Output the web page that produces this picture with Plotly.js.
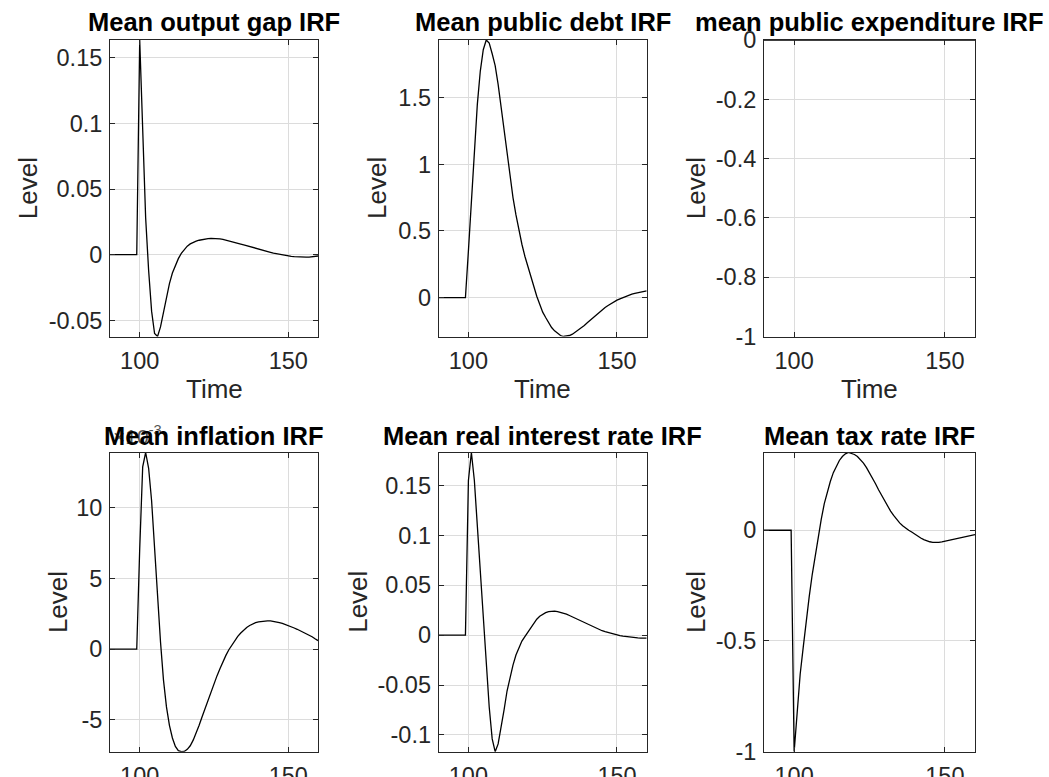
<!DOCTYPE html>
<html><head><meta charset="utf-8">
<script src="https://cdn.plot.ly/plotly-3.0.1.min.js"></script>
<style>html,body{margin:0;padding:0;background:#fff}#chart{width:1049px;height:777px}</style>
</head><body><div id="chart"></div>
<script>
const time = [90,91,92,93,94,95,96,97,98,99,100,101,102,103,104,105,106,107,108,109,110,111,112,113,114,115,116,117,118,119,120,121,122,123,124,125,126,127,128,129,130,131,132,133,134,135,136,137,138,139,140,141,142,143,144,145,146,147,148,149,150,151,152,153,154,155,156,157,158,159,160];

const outputGap = [0,0,0,0,0,0,0,0,0,0,
 0.1635,0.095,0.028,-0.012,-0.043,-0.060,-0.0623,-0.055,-0.043,-0.032,
 -0.022,-0.014,-0.008,-0.003,0.001,0.004,0.0065,0.0082,0.0094,0.0103,
 0.011,0.0116,0.012,0.0123,0.0125,0.0125,0.0123,0.012,0.0116,0.0111,
 0.0105,0.0099,0.0093,0.0087,0.0081,0.0075,0.0068,0.0061,0.0055,0.0048,
 0.0042,0.0036,0.003,0.0024,0.0018,0.0012,0.0007,0.0003,0,-0.0005,
 -0.0009,-0.0012,-0.0015,-0.0017,-0.0018,-0.0019,-0.0019,-0.0018,-0.0016,-0.0013,
 -0.001];

const publicDebt = [0,0,0,0,0,0,0,0,0,0,
 0.35,0.75,1.12,1.45,1.70,1.86,1.933,1.91,1.83,1.74,
 1.60,1.43,1.25,1.07,0.90,0.75,0.62,0.50,0.40,0.31,
 0.23,0.15,0.08,0.01,-0.05,-0.11,-0.15,-0.19,-0.225,-0.25,
 -0.27,-0.285,-0.2925,-0.29,-0.285,-0.275,-0.26,-0.245,-0.23,-0.21,
 -0.19,-0.17,-0.15,-0.13,-0.11,-0.09,-0.075,-0.06,-0.045,-0.032,
 -0.02,-0.01,0,0.01,0.018,0.025,0.031,0.037,0.042,0.046,
 0.05];

const publicExpenditure = [0,0,0,0,0,0,0,0,0,0,
 0,0,0,0,0,0,0,0,0,0,
 0,0,0,0,0,0,0,0,0,0,
 0,0,0,0,0,0,0,0,0,0,
 0,0,0,0,0,0,0,0,0,0,
 0,0,0,0,0,0,0,0,0,0,
 0,0,0,0,0,0,0,0,0,0,
 0];

// inflation in units of 1e-3
const inflation = [0,0,0,0,0,0,0,0,0,0,
 7.1,12.9,13.92,12.8,10.5,7.2,3.5,0.5,-2.2,-4.1,
 -5.4,-6.3,-6.9,-7.2,-7.27,-7.25,-7.1,-6.85,-6.45,-5.95,
 -5.4,-4.8,-4.2,-3.6,-3.0,-2.45,-1.9,-1.4,-0.9,-0.45,
 -0.05,0.3,0.62,0.9,1.14,1.35,1.53,1.67,1.78,1.87,
 1.93,1.97,1.99,2.0,1.99,1.96,1.92,1.87,1.81,1.74,
 1.66,1.58,1.49,1.4,1.3,1.2,1.1,0.99,0.87,0.73,
 0.6];

const realRate = [0,0,0,0,0,0,0,0,0,0,
 0.155,0.183,0.155,0.108,0.062,0.018,-0.028,-0.072,-0.104,-0.1168,
 -0.109,-0.093,-0.075,-0.056,-0.042,-0.03,-0.02,-0.012,-0.006,-0.0015,
 0.003,0.008,0.012,0.016,0.019,0.021,0.0225,0.0235,0.024,0.024,
 0.0235,0.0228,0.022,0.021,0.0197,0.0183,0.0168,0.0153,0.0138,0.0123,
 0.0108,0.0094,0.008,0.0067,0.0055,0.0044,0.0034,0.0025,0.0016,0.0008,
 0.0002,-0.0004,-0.001,-0.0015,-0.002,-0.0023,-0.0026,-0.0028,-0.0029,-0.003,
 -0.003];

const taxRate = [0,0,0,0,0,0,0,0,0,0,
 -1,-0.80,-0.65,-0.53,-0.41,-0.30,-0.20,-0.11,-0.03,0.05,
 0.12,0.175,0.22,0.26,0.29,0.315,0.333,0.345,0.351,0.348,
 0.342,0.333,0.32,0.303,0.283,0.26,0.235,0.21,0.183,0.157,
 0.132,0.108,0.086,0.067,0.049,0.033,0.02,0.009,0.0,-0.008,
 -0.018,-0.027,-0.035,-0.042,-0.048,-0.052,-0.055,-0.056,-0.055,-0.053,
 -0.05,-0.047,-0.044,-0.041,-0.038,-0.035,-0.032,-0.029,-0.026,-0.023,
 -0.02];

const titles = ['Mean output gap IRF','Mean public debt IRF','mean public expenditure IRF',
                'Mean inflation IRF','Mean real interest rate IRF','Mean tax rate IRF'];
const xTickVals = [100,150];
const xTickText = ['100','150'];
const yTicks = [
  {vals:[-0.05,0,0.05,0.1,0.15], text:['-0.05','0','0.05','0.1','0.15']},
  {vals:[0,0.5,1,1.5], text:['0','0.5','1','1.5']},
  {vals:[-1,-0.8,-0.6,-0.4,-0.2,0], text:['-1','-0.8','-0.6','-0.4','-0.2','0']},
  {vals:[-5,0,5,10], text:['-5','0','5','10']},
  {vals:[-0.1,-0.05,0,0.05,0.1,0.15], text:['-0.1','-0.05','0','0.05','0.1','0.15']},
  {vals:[-1,-0.5,0], text:['-1','-0.5','0']}
];
const series = [outputGap, publicDebt, publicExpenditure, inflation, realRate, taxRate];
const xLabel = 'Time', yLabel = 'Level', expLabel = '×10<sup>-3</sup>';

const W = 1049, H = 777;
const colPx = [[110,318],[438.7,646.7],[764,975]];
const rowPx = [[40,336.5],[452.5,751.7]];
const yLabelOffset = [82, 61, 68, 52, 81, 68];
const FONT = 'Liberation Sans, Arial, Helvetica, sans-serif';
const TXT = '#262626';

const data = [], annotations = [];
const layout = {
  width: W, height: H, margin:{l:0,r:0,t:0,b:0},
  paper_bgcolor:'#fff', plot_bgcolor:'#fff', showlegend:false,
  font:{family:FONT, size:23, color:TXT}, annotations: annotations
};

for (let i=0;i<6;i++){
  const r = Math.floor(i/3), c = i%3;
  const xa = 'x'+(i===0?'':i+1), ya = 'y'+(i===0?'':i+1);
  data.push({x: time, y: series[i], xaxis: xa, yaxis: ya, type:'scatter', mode:'lines',
    line:{color:'#000', width:1.3}, hoverinfo:'x+y'});
  let ymin = Math.min(...series[i]), ymax = Math.max(...series[i]);
  if (ymin === ymax) { ymin = ymin - 1; }
  const xd = [colPx[c][0]/W, colPx[c][1]/W];
  const yd = [1 - rowPx[r][1]/H, 1 - rowPx[r][0]/H];
  const axCommon = {showline:true, mirror:'ticks', linecolor:TXT, linewidth:1,
    ticks:'inside', ticklen:5, tickcolor:TXT, tickwidth:1,
    showgrid:true, gridcolor:'#dcdcdc', gridwidth:1, zeroline:false,
    tickfont:{family:FONT, size:23.5, color:TXT}, fixedrange:true};
  layout['xaxis'+(i===0?'':i+1)] = Object.assign({}, axCommon, {
    domain: xd, anchor: ya, range:[time[0], time[time.length-1]],
    tickmode:'array', tickvals:xTickVals, ticktext:xTickText, ticklabelstandoff:3});
  layout['yaxis'+(i===0?'':i+1)] = Object.assign({}, axCommon, {
    domain: yd, anchor: xa, range:[ymin, ymax],
    tickmode:'array', tickvals:yTicks[i].vals, ticktext:yTicks[i].text, ticklabelstandoff:2});
  annotations.push({text:yLabel, xref:'paper', yref:'paper', textangle:-90,
    x:(colPx[c][0]-yLabelOffset[i])/W, y:1-((rowPx[r][0]+rowPx[r][1])/2)/H, xanchor:'center', yanchor:'middle',
    showarrow:false, font:{family:FONT, size:26, color:TXT}});
  if (r===0){
    annotations.push({text:xLabel, xref:'paper', yref:'paper',
      x:((colPx[c][0]+colPx[c][1])/2)/W, y:1-389/H, xanchor:'center', yanchor:'middle',
      showarrow:false, font:{family:FONT, size:26, color:TXT}});
  }
  if (i===3){
    annotations.push({text:expLabel, xref:'paper', yref:'paper',
      x:(colPx[c][0]+1)/W, y:1-(rowPx[r][0]-3)/H, xanchor:'left', yanchor:'bottom',
      showarrow:false, font:{family:FONT, size:21, color:'#555'}});
  }
  annotations.push({text:'<b>'+titles[i]+'</b>', xref:'paper', yref:'paper',
    x:((colPx[c][0]+colPx[c][1])/2)/W, y:1-(r===0?22:436)/H, xanchor:'center', yanchor:'middle',
    showarrow:false, font:{family:FONT, size:25.5, color:'#000'}});
}

Plotly.newPlot('chart', data, layout, {displayModeBar:false, staticPlot:true});
</script></body></html>
